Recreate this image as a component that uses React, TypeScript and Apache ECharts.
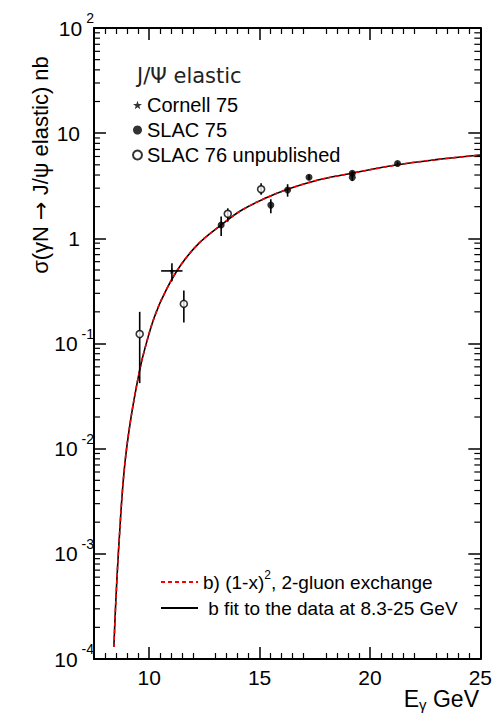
import React, { useEffect, useRef } from "react";
import * as echarts from "echarts";

const X_MIN = 7.5;
const X_MAX = 25;
const Y_MIN = 1e-4;
const Y_MAX = 100;

// Fit curve (E in GeV, sigma in nb)
const fitE = [8.4, 8.49, 8.64, 8.87, 9.16, 9.57, 9.79, 10.24, 10.76, 11.44, 12.26, 13.26, 14.2, 15.25, 16.27, 17.65, 19.0, 21.25, 23.0, 25.0];
const fitSigma = [1.3e-4, 3.6e-4, 1.35e-3, 6.3e-3, 1.88e-2, 0.056, 0.087, 0.18, 0.32, 0.56, 0.9, 1.34, 1.86, 2.4, 2.93, 3.59, 4.09, 5.0, 5.6, 6.2];

// SLAC 75 (filled)
const slac75E = [13.26, 15.51, 16.27, 17.24, 19.2, 19.2, 21.25];
const slac75Sigma = [1.34, 2.07, 2.88, 3.81, 4.15, 3.8, 5.15];
const slac75Lo = [1.05, 1.73, 2.49, 3.6, 3.95, 3.5, 4.95];
const slac75Hi = [1.61, 2.35, 3.27, 4.02, 4.35, 4.05, 5.35];

// SLAC 76 unpublished (open)
const slac76E = [9.57, 11.57, 13.56, 15.07];
const slac76Sigma = [0.123, 0.238, 1.71, 2.93];
const slac76Lo = [0.042, 0.158, 1.44, 2.59];
const slac76Hi = [0.2, 0.32, 1.93, 3.34];

// Cornell 75 (star)
const cornellE = [11.03];
const cornellSigma = [0.49];
const cornellLo = [0.39];
const cornellHi = [0.58];
const cornellELo = [10.54];
const cornellEHi = [11.51];

const xTicks = [10, 15, 20, 25];

const FONT = "Liberation Sans, Arial, Helvetica, sans-serif";
const STAR = "path://M0,-10 L2.35,-3.24 L9.51,-3.09 L3.8,1.24 L5.88,8.09 L0,4 L-5.88,8.09 L-3.8,1.24 L-9.51,-3.09 L-2.35,-3.24 Z";

function buildMinorTicks(): number[] {
  const out: number[] = [];
  for (let k = -4; k < 2; k++) {
    for (let m = 2; m <= 9; m++) out.push(m * Math.pow(10, k));
  }
  return out;
}

export default function App() {
  const ref = useRef<HTMLDivElement>(null);
  useEffect(() => {
    if (!ref.current) return;
    const chart = echarts.init(ref.current, undefined, { renderer: "svg" });

    const errData = (
      e: number[], s: number[], lo: number[], hi: number[], el?: number[], eh?: number[]
    ) => e.map((x, i) => [x, s[i], lo[i], hi[i], el ? el[i] : x, eh ? eh[i] : x]);

    const errRender = (params: any, api: any) => {
      const x = api.value(0);
      const lo = api.value(2);
      const hi = api.value(3);
      const xl = api.value(4);
      const xh = api.value(5);
      const y = api.value(1);
      const a = api.coord([x, lo]);
      const b = api.coord([x, hi]);
      const children: any[] = [
        { type: "line", shape: { x1: a[0], y1: a[1], x2: b[0], y2: b[1] }, style: { stroke: "#000", lineWidth: 1.6 } },
      ];
      if (xl !== xh) {
        const c = api.coord([xl, y]);
        const d = api.coord([xh, y]);
        children.push({ type: "line", shape: { x1: c[0], y1: c[1], x2: d[0], y2: d[1] }, style: { stroke: "#000", lineWidth: 1.6 } });
      }
      return { type: "group", children };
    };

    const minorTicks = buildMinorTicks();

    const yLabelFmt = (v: number) => {
      const e = Math.round(Math.log10(v));
      if (e === 0) return "{p|1}";
      if (e === 1) return "{p|10}";
      return "{b|10}{e|" + e + "}";
    };

    const option: any = {
      animation: false,
      backgroundColor: "#fff",
      textStyle: { fontFamily: FONT },
      title: {
        text: "J/Ψ elastic",
        left: 132,
        top: 60,
        textStyle: { fontFamily: "DejaVu Sans, sans-serif", fontSize: 21, fontWeight: "normal", color: "#222" },
      },
      grid: { left: 94, top: 28, right: 11, bottom: 58, containLabel: false },
      legend: [
        {
          orient: "vertical",
          left: 127,
          top: 90,
          itemWidth: 9,
          itemHeight: 9,
          itemGap: 5,
          textStyle: { fontFamily: FONT, fontSize: 20, color: "#000" },
          data: ["Cornell 75", "SLAC 75", "SLAC 76 unpublished"],
        },
        {
          orient: "vertical",
          left: 155,
          top: 564,
          itemWidth: 37,
          itemHeight: 12,
          itemGap: 7,
          itemStyle: { opacity: 0 },
          textStyle: {
            fontFamily: FONT,
            fontSize: 19,
            color: "#000",
            rich: {
              n: { fontFamily: FONT, fontSize: 19, color: "#000" },
              s: { fontFamily: FONT, fontSize: 12, color: "#000", padding: [0, 0, 14, 0] },
            },
          },
          formatter: (name: string) => {
            if (name.indexOf("(1-x)") >= 0) return "{n|b) (1-x)}{s|2}{n|, 2-gluon exchange}";
            return "{n|" + name + "}";
          },
          data: ["b) (1-x)2, 2-gluon exchange", " b fit to the data at 8.3-25 GeV"],
        },
      ],
      xAxis: [
        {
          type: "value",
          min: X_MIN,
          max: X_MAX,
          interval: 2.5,
          position: "bottom",
          axisLine: { onZero: false, lineStyle: { color: "#000", width: 2 } },
          axisTick: { inside: true, length: 12, lineStyle: { color: "#000", width: 1.5 }, customValues: xTicks },
          minorTick: { show: true, splitNumber: 5, length: 6, lineStyle: { color: "#000", width: 1.2 } },
          axisLabel: {
            margin: 9,
            fontSize: 21,
            lineHeight: 18,
            color: "#000",
            fontFamily: FONT,
            customValues: xTicks,
            formatter: (v: number) => String(v),
          },
          splitLine: { show: false },
        },
        {
          type: "value",
          min: X_MIN,
          max: X_MAX,
          interval: 2.5,
          position: "top",
          axisLine: { onZero: false, lineStyle: { color: "#000", width: 2 } },
          axisTick: { inside: true, length: 12, lineStyle: { color: "#000", width: 1.5 }, customValues: xTicks },
          minorTick: { show: true, splitNumber: 5, length: 6, lineStyle: { color: "#000", width: 1.2 } },
          axisLabel: { show: false },
          splitLine: { show: false },
        },
      ],
      yAxis: [
        {
          type: "log",
          logBase: 10,
          min: Y_MIN,
          max: Y_MAX,
          position: "left",
          axisLine: { onZero: false, lineStyle: { color: "#000", width: 2 } },
          axisTick: { inside: true, length: 12, lineStyle: { color: "#000", width: 1.5 } },
          axisLabel: {
            margin: 0,
            color: "#000",
            formatter: yLabelFmt,
            rich: {
              b: { fontFamily: FONT, fontSize: 21, color: "#000", lineHeight: 21 },
              e: { fontFamily: FONT, fontSize: 14, color: "#000", padding: [0, 0, 20, 4] },
              p: { fontFamily: FONT, fontSize: 21, color: "#000", padding: [0, 14, 0, 0] },
            },
          },
          splitLine: { show: false },
        },
        {
          type: "log",
          logBase: 10,
          min: Y_MIN,
          max: Y_MAX,
          position: "right",
          axisLine: { onZero: false, lineStyle: { color: "#000", width: 2 } },
          axisTick: { inside: true, length: 12, lineStyle: { color: "#000", width: 1.5 } },
          axisLabel: { show: false },
          splitLine: { show: false },
        },
      ],
      graphic: [
        {
          type: "text",
          x: 40,
          y: 165,
          rotation: Math.PI / 2,
          style: {
            text: "{a|σ(γN }{r|→}{a| J/ψ elastic) nb}",
            align: "center",
            verticalAlign: "middle",
            rich: {
              a: { fontFamily: FONT, fontSize: 22, fill: "#000" },
              r: { fontFamily: "DejaVu Sans, sans-serif", fontSize: 22, fill: "#000" },
            },
          },
        },
        {
          type: "text",
          right: 16,
          top: 687,
          style: {
            text: "{a|E}{s|γ}{a| GeV}",
            rich: {
              a: { fontFamily: FONT, fontSize: 23, fill: "#000", lineHeight: 23 },
              s: { fontFamily: FONT, fontSize: 15, fill: "#000", padding: [12, 0, 0, 0] },
            },
          },
        },
      ],
      series: [
        {
          name: "minorTicks",
          type: "custom",
          silent: true,
          clip: false,
          data: minorTicks.map((v) => [X_MIN, v]),
          renderItem: (params: any, api: any) => {
            const v = api.value(1);
            const l = api.coord([X_MIN, v]);
            const r = api.coord([X_MAX, v]);
            return {
              type: "group",
              children: [
                { type: "line", shape: { x1: l[0], y1: l[1], x2: l[0] + 6, y2: l[1] }, style: { stroke: "#000", lineWidth: 1.2 } },
                { type: "line", shape: { x1: r[0], y1: r[1], x2: r[0] - 6, y2: r[1] }, style: { stroke: "#000", lineWidth: 1.2 } },
              ],
            };
          },
          z: 1,
        },
        {
          name: " b fit to the data at 8.3-25 GeV",
          type: "line",
          data: fitE.map((e, i) => [e, fitSigma[i]]),
          smooth: 0.4,
          symbol: "none",
          lineStyle: { color: "#000", width: 1.6 },
          itemStyle: { color: "#000" },
          z: 2,
        },
        {
          name: "b) (1-x)2, 2-gluon exchange",
          type: "line",
          data: fitE.map((e, i) => [e, fitSigma[i]]),
          smooth: 0.4,
          symbol: "none",
          lineStyle: { color: "#ff0000", width: 1.6, type: [4, 3] },
          itemStyle: { color: "#ff0000" },
          z: 3,
        },
        {
          name: "err",
          type: "custom",
          renderItem: errRender,
          data: [
            ...errData(slac75E, slac75Sigma, slac75Lo, slac75Hi),
            ...errData(slac76E, slac76Sigma, slac76Lo, slac76Hi),
            ...errData(cornellE, cornellSigma, cornellLo, cornellHi, cornellELo, cornellEHi),
          ],
          z: 4,
        },
        {
          name: "Cornell 75",
          type: "scatter",
          symbol: STAR,
          symbolSize: 6,
          itemStyle: { color: "#000" },
          data: cornellE.map((e, i) => [e, cornellSigma[i]]),
          z: 5,
        },
        {
          name: "SLAC 75",
          type: "scatter",
          symbol: "circle",
          symbolSize: 7,
          itemStyle: { color: "#000" },
          data: slac75E.map((e, i) => [e, slac75Sigma[i]]),
          z: 5,
        },
        {
          name: "SLAC 76 unpublished",
          type: "scatter",
          symbol: "circle",
          symbolSize: 7,
          itemStyle: { color: "#fff", borderColor: "#000", borderWidth: 1.6 },
          data: slac76E.map((e, i) => [e, slac76Sigma[i]]),
          z: 5,
        },
      ],
    };

    chart.setOption(option);
    return () => chart.dispose();
  }, []);

  return <div ref={ref} style={{ width: 495, height: 717, position: "absolute", left: 0, top: 0 }} />;
}
